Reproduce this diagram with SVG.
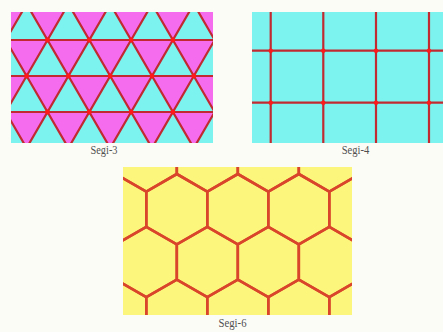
<svg xmlns="http://www.w3.org/2000/svg" width="443" height="332" viewBox="0 0 443 332">
<defs>
<style>
.lbl{font-family:"Liberation Serif","Times New Roman",serif;font-size:12.5px;fill:#505050;text-anchor:middle}
.tri{fill:none;stroke:#c02a30;stroke-width:2.2}
.dot{fill:#ff1a1a}
.hex{fill:none;stroke:#d9452b;stroke-width:2.6;stroke-linejoin:round}
</style>
<clipPath id="c1"><rect x="11" y="12" width="202" height="131"/></clipPath>
<clipPath id="c2"><rect x="252" y="12" width="191" height="131"/></clipPath>
<clipPath id="c3"><rect x="123" y="167" width="229" height="148"/></clipPath>
</defs>
<rect width="443" height="332" fill="#fcfcf7"/>

<g id="segi3">
<g clip-path="url(#c1)">
<rect x="11" y="12" width="202" height="131" fill="#f56cef"/>
<path fill="#7cf3ee" d="M26.6 4L47.5 40L5.7 40Z M68.4 4L89.3 40L47.5 40Z M110.2 4L131.1 40L89.3 40Z M152 4L172.9 40L131.1 40Z M193.8 4L214.7 40L172.9 40Z
M5.7 40L26.6 76L-15.2 76Z M47.5 40L68.4 76L26.6 76Z M89.3 40L110.2 76L68.4 76Z M131.1 40L152 76L110.2 76Z M172.9 40L193.8 76L152 76Z M214.7 40L235.6 76L193.8 76Z
M26.6 76L47.5 112L5.7 112Z M68.4 76L89.3 112L47.5 112Z M110.2 76L131.1 112L89.3 112Z M152 76L172.9 112L131.1 112Z M193.8 76L214.7 112L172.9 112Z
M5.7 112L26.6 148L-15.2 148Z M47.5 112L68.4 148L26.6 148Z M89.3 112L110.2 148L68.4 148Z M131.1 112L152 148L110.2 148Z M172.9 112L193.8 148L152 148Z M214.7 112L235.6 148L193.8 148Z"/>
<path class="tri" d="M0 40H224 M0 76H224 M0 112H224
M-57 4L26.6 148 M-15.2 4L68.4 148 M26.6 4L110.2 148 M68.4 4L152 148 M110.2 4L193.8 148 M152 4L235.6 148 M193.8 4L277.4 148
M26.6 4L-57 148 M68.4 4L-15.2 148 M110.2 4L26.6 148 M152 4L68.4 148 M193.8 4L110.2 148 M235.6 4L152 148 M277.4 4L193.8 148"/>
<g class="dot">
<circle cx="47.5" cy="40" r="2.4"/><circle cx="89.3" cy="40" r="2.4"/><circle cx="131.1" cy="40" r="2.4"/><circle cx="172.9" cy="40" r="2.4"/>
<circle cx="26.6" cy="76" r="2.4"/><circle cx="68.4" cy="76" r="2.4"/><circle cx="110.2" cy="76" r="2.4"/><circle cx="152" cy="76" r="2.4"/><circle cx="193.8" cy="76" r="2.4"/>
<circle cx="47.5" cy="112" r="2.4"/><circle cx="89.3" cy="112" r="2.4"/><circle cx="131.1" cy="112" r="2.4"/><circle cx="172.9" cy="112" r="2.4"/>
</g>
</g>
<text class="lbl" x="104" y="153.5" textLength="27" lengthAdjust="spacingAndGlyphs">Segi-3</text>
</g>

<g id="segi4">
<g clip-path="url(#c2)">
<rect x="252" y="12" width="191" height="131" fill="#7cf3ee"/>
<path class="tri" d="M270.7 0V150 M323.3 0V150 M376 0V150 M429 0V150 M240 50.7H450 M240 102.7H450"/>
<g class="dot">
<circle cx="270.7" cy="50.7" r="2.2"/><circle cx="323.3" cy="50.7" r="2.2"/><circle cx="376" cy="50.7" r="2.2"/><circle cx="429" cy="50.7" r="2.2"/>
<circle cx="270.7" cy="102.7" r="2.2"/><circle cx="323.3" cy="102.7" r="2.2"/><circle cx="376" cy="102.7" r="2.2"/><circle cx="429" cy="102.7" r="2.2"/>
</g>
</g>
<text class="lbl" x="355.5" y="153.5" textLength="27.5" lengthAdjust="spacingAndGlyphs">Segi-4</text>
</g>

<g id="segi6">
<defs>
<polygon id="hx" class="hex" points="0,-35.2 30.5,-17.6 30.5,17.6 0,35.2 -30.5,17.6 -30.5,-17.6"/>
</defs>
<g clip-path="url(#c3)">
<rect x="123" y="167" width="229" height="148" fill="#fcf67c"/>
<use href="#hx" x="146.3" y="156.4"/><use href="#hx" x="207.3" y="156.4"/><use href="#hx" x="268.3" y="156.4"/><use href="#hx" x="329.3" y="156.4"/>
<use href="#hx" x="115.8" y="209.2"/><use href="#hx" x="176.8" y="209.2"/><use href="#hx" x="237.8" y="209.2"/><use href="#hx" x="298.8" y="209.2"/><use href="#hx" x="359.8" y="209.2"/>
<use href="#hx" x="146.3" y="262"/><use href="#hx" x="207.3" y="262"/><use href="#hx" x="268.3" y="262"/><use href="#hx" x="329.3" y="262"/>
<use href="#hx" x="115.8" y="314.8"/><use href="#hx" x="176.8" y="314.8"/><use href="#hx" x="237.8" y="314.8"/><use href="#hx" x="298.8" y="314.8"/><use href="#hx" x="359.8" y="314.8"/>
</g>
<text class="lbl" x="232.5" y="326.5" textLength="28" lengthAdjust="spacingAndGlyphs">Segi-6</text>
</g>
</svg>
